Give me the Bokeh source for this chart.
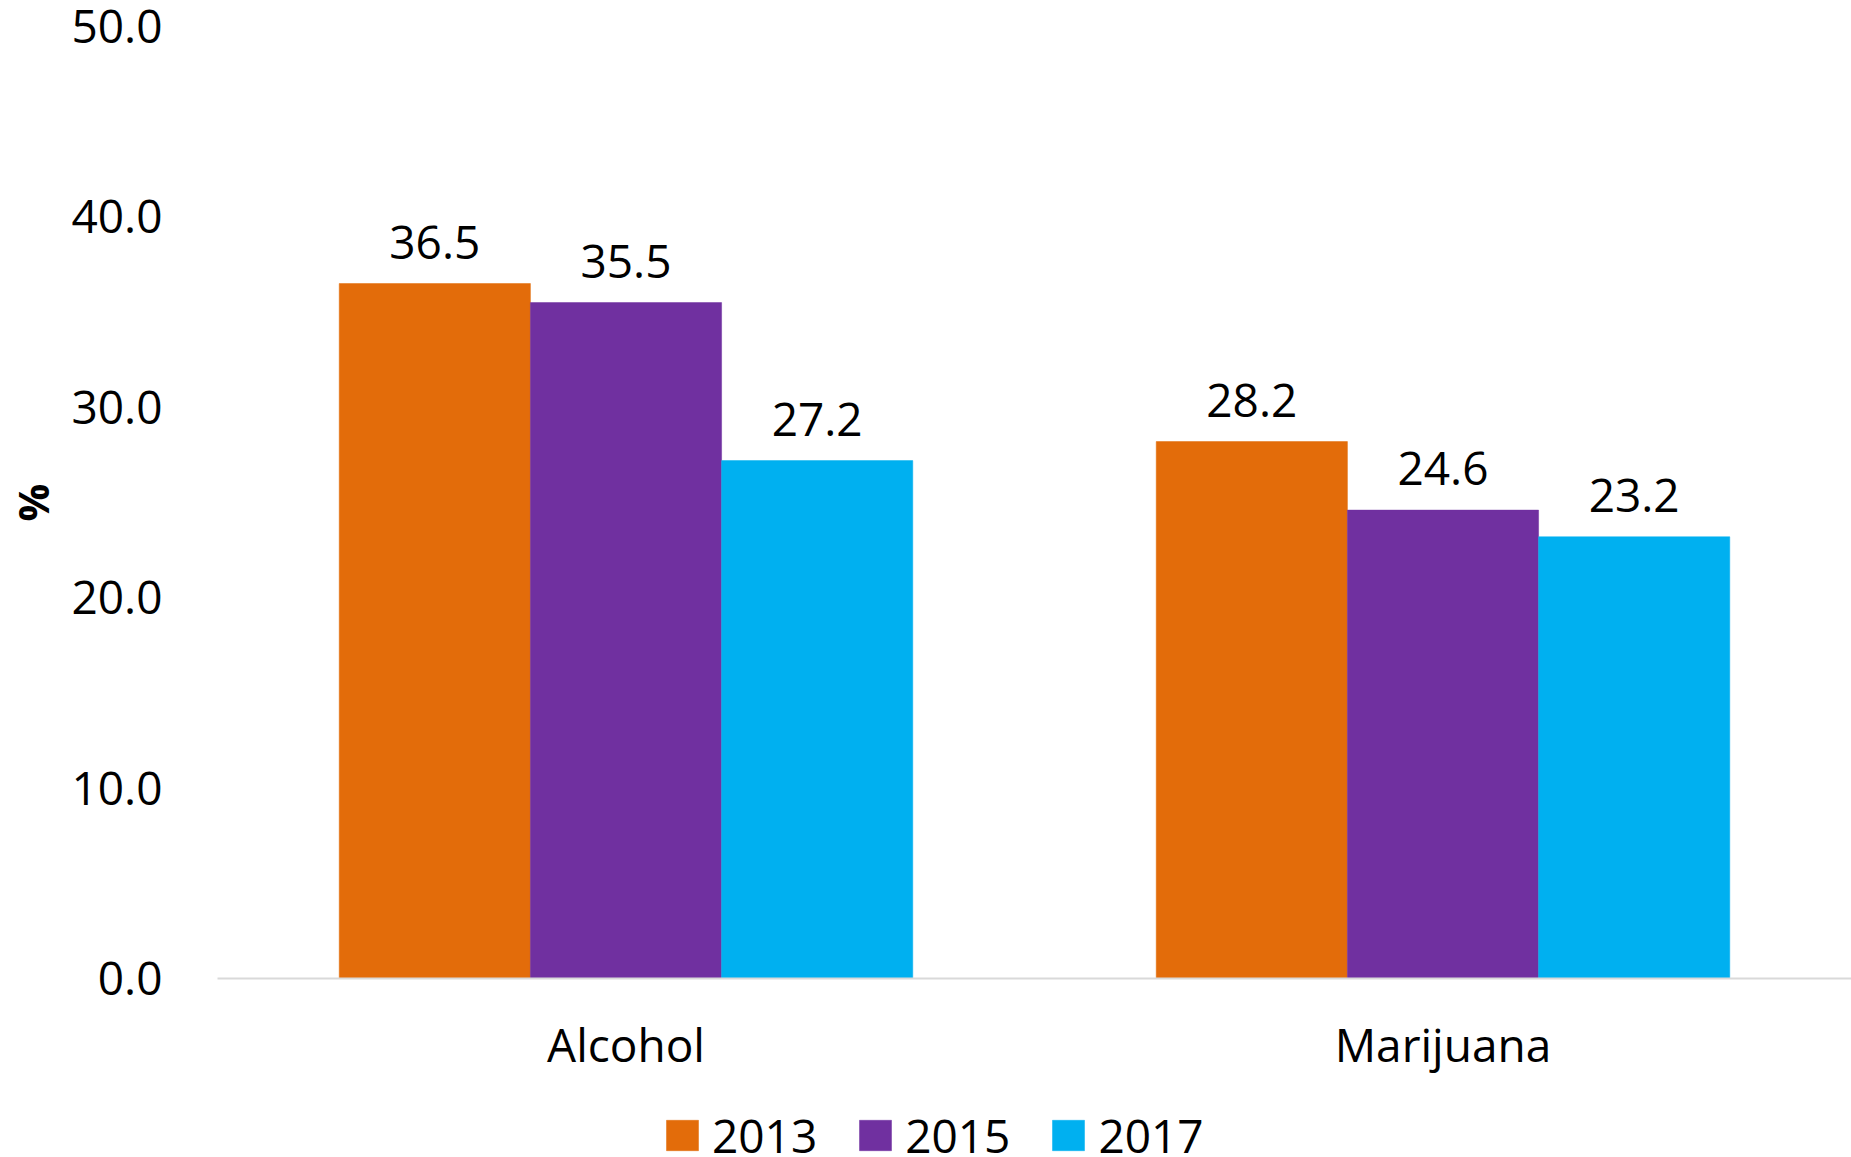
from bokeh.plotting import figure
from bokeh.layouts import column
from bokeh.models import (ColumnDataSource, FactorRange, Range1d, FixedTicker,
                          PrintfTickFormatter, Legend, LegendItem, LabelSet)
from bokeh.core.properties import value
from bokeh.transform import dodge
from bokeh.embed import file_html
from bokeh.resources import INLINE

categories = ["Alcohol", "Marijuana"]
years = ["2013", "2015", "2017"]
v2013 = [36.5, 28.2]
v2015 = [35.5, 24.6]
v2017 = [27.2, 23.2]
colors = ["#E36C0A", "#7030A0", "#00B0F0"]
y_ticks = [0, 10, 20, 30, 40, 50]

FONT = "Open Sans"
BW = 0.234

xr = FactorRange(factors=categories, range_padding=0)
p = figure(x_range=xr, y_range=Range1d(0, 50), width=1851, height=1080,
           output_backend="svg", toolbar_location=None,
           min_border_left=216, min_border_right=0, min_border_top=26,
           min_border_bottom=102)
p.outline_line_color = None
p.xgrid.visible = False
p.ygrid.visible = False

# small figure under the chart that only carries the legend
leg_fig = figure(x_range=xr, y_range=Range1d(0, 50), width=1851, height=77,
                 output_backend="svg", toolbar_location=None,
                 min_border_left=0, min_border_right=0, min_border_top=0,
                 min_border_bottom=0)
leg_fig.outline_line_color = None
leg_fig.axis.visible = False
leg_fig.grid.visible = False

items = []
for i, (yr, vals, col) in enumerate(zip(years, [v2013, v2015, v2017], colors)):
    off = (i - 1) * BW
    src = ColumnDataSource(dict(cat=categories, val=vals,
                                txt=[f"{v:.1f}" for v in vals]))
    p.vbar(x=dodge("cat", off, range=xr), top="val", width=BW,
           source=src, fill_color=col, line_color=col, line_width=0.5)
    lr = leg_fig.vbar(x=dodge("cat", off, range=xr), top="val", width=BW,
                      source=src, fill_color=col, line_color=col,
                      line_width=0.5, visible=False)
    items.append(LegendItem(label=yr, renderers=[lr]))
    lbl = LabelSet(x=dodge("cat", off, range=xr), y="val", text="txt",
                   source=src, text_align="center", text_baseline="alphabetic",
                   y_offset=25, text_font=value(FONT), text_font_size="46px",
                   text_color="black")
    p.add_layout(lbl)

# y axis
ya = p.yaxis[0]
ya.ticker = FixedTicker(ticks=y_ticks)
ya.formatter = PrintfTickFormatter(format="%.1f")
ya.axis_line_color = None
ya.major_tick_line_color = None
ya.minor_tick_line_color = None
ya.major_tick_out = 0
ya.major_label_standoff = 55
ya.major_label_text_font = FONT
ya.major_label_text_font_size = "46px"
ya.major_label_text_color = "black"
ya.axis_label = "%"
ya.axis_label_text_font = FONT
ya.axis_label_text_font_size = "42px"
ya.axis_label_text_font_style = "bold"
ya.axis_label_text_color = "black"
ya.axis_label_standoff = 8

# x axis
xa = p.xaxis[0]
xa.axis_line_color = "#D9D9D9"
xa.axis_line_width = 2
xa.major_tick_line_color = None
xa.minor_tick_line_color = None
xa.major_tick_out = 0
xa.major_label_standoff = 34
xa.major_label_text_font = FONT
xa.major_label_text_font_size = "46px"
xa.major_label_text_color = "black"

legend = Legend(items=items, orientation="horizontal", location=(445, -9),
                glyph_width=40, glyph_height=38, label_standoff=10, spacing=38,
                padding=0, margin=0, border_line_color=None,
                background_fill_alpha=0, inactive_fill_alpha=0,
                label_text_font=FONT, label_text_font_size="46px",
                label_text_color="black")
leg_fig.add_layout(legend, "center")

layout = column(p, leg_fig, spacing=0)
open("out.html", "w").write(file_html(layout, INLINE))
